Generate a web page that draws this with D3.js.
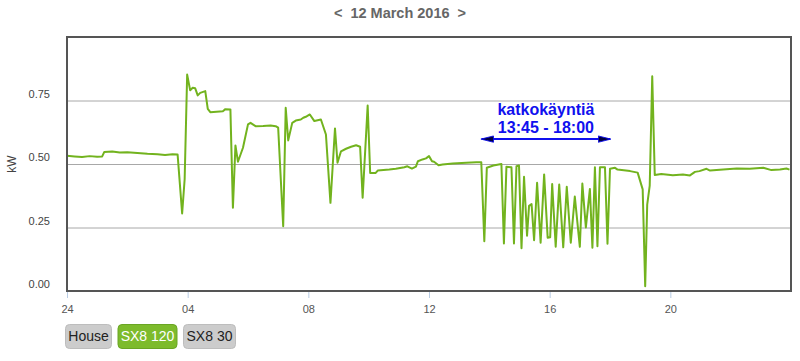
<!DOCTYPE html>
<html>
<head>
<meta charset="utf-8">
<script src="https://cdn.jsdelivr.net/npm/d3@7"></script>
<style>
  html, body { margin: 0; padding: 0; background: #fff; }
  svg { display: block; font-family: "Liberation Sans", Arial, sans-serif; }
</style>
</head>
<body>
<svg id="chart" width="800" height="361"></svg>
<script>
// ---- data ----
const title = "<  12 March 2016  >";
const yLabel = "kW";
const times = ["00:00","00:15","00:30","00:45","01:00","01:10","01:14","01:30","01:45","02:00","02:20","02:40","03:00","03:15","03:30","03:40","03:49","03:54","03:59","04:05","04:10","04:15","04:20","04:25","04:35","04:40","04:45","05:10","05:15","05:25","05:30","05:35","05:40","05:50","06:00","06:05","06:15","06:30","06:45","06:55","07:00","07:10","07:15","07:20","07:28","07:35","07:45","07:50","07:55","08:03","08:12","08:25","08:35","08:44","08:53","08:58","09:05","09:15","09:25","09:35","09:43","09:48","09:58","10:03","10:14","10:18","10:41","10:54","11:11","11:17","11:26","11:34","11:38","11:47","11:54","12:00","12:06","12:10","12:19","12:27","12:47","13:14","13:34","13:44","13:50","13:55","14:08","14:24","14:29","14:34","14:44","14:49","14:54","14:59","15:04","15:09","15:15","15:19","15:24","15:29","15:35","15:42","15:49","15:56","16:01","16:05","16:12","16:19","16:27","16:34","16:42","16:50","17:00","17:05","17:12","17:20","17:25","17:30","17:35","17:40","17:50","17:55","18:00","18:10","18:15","18:40","18:55","19:05","19:10","19:14","19:19","19:24","19:29","19:42","20:05","20:25","20:39","20:49","20:58","21:12","21:19","21:45","22:12","22:38","23:05","23:21","23:38","23:51","23:57"];
const sx8_120 = [0.532,0.530,0.528,0.531,0.529,0.530,0.547,0.549,0.545,0.546,0.543,0.540,0.538,0.535,0.538,0.537,0.305,0.440,0.852,0.790,0.800,0.798,0.770,0.780,0.787,0.717,0.704,0.708,0.716,0.715,0.328,0.573,0.509,0.564,0.656,0.662,0.649,0.650,0.652,0.649,0.643,0.255,0.721,0.593,0.662,0.671,0.675,0.682,0.686,0.695,0.669,0.675,0.616,0.347,0.640,0.505,0.550,0.560,0.568,0.574,0.568,0.367,0.730,0.465,0.465,0.474,0.478,0.481,0.487,0.491,0.482,0.490,0.511,0.518,0.522,0.531,0.511,0.509,0.495,0.498,0.502,0.505,0.507,0.507,0.196,0.485,0.494,0.500,0.187,0.489,0.487,0.187,0.491,0.494,0.168,0.450,0.218,0.335,0.342,0.200,0.426,0.190,0.459,0.210,0.212,0.421,0.174,0.419,0.172,0.410,0.190,0.372,0.174,0.423,0.250,0.402,0.170,0.487,0.176,0.487,0.487,0.186,0.481,0.485,0.478,0.472,0.466,0.400,0.019,0.340,0.415,0.845,0.457,0.461,0.456,0.459,0.455,0.469,0.472,0.481,0.474,0.478,0.482,0.481,0.485,0.476,0.478,0.482,0.478];
const xTickHours = [0, 4, 8, 12, 16, 20];
const xTickLabels = ["24", "04", "08", "12", "16", "20"];
const yTicks = [0, 0.25, 0.5, 0.75];
const annotationLines = ["katkokäyntiä", "13:45 - 18:00"];
const annotationSpan = ["13:45", "18:00"];
const annotationLevel = 0.598;
const buttons = ["House", "SX8 120", "SX8 30"];
const activeButton = "SX8 120";

// ---- helpers ----
const toHours = s => { const [h, m] = s.split(":").map(Number); return h + m / 60; };
const data = times.map((t, i) => ({ h: toHours(t), v: sx8_120[i] }));

const svg = d3.select("#chart");
const L = 67, R = 791, T = 37, B = 291;

const x = d3.scaleLinear().domain([0, 24]).range([L, R]);
const y = d3.scaleLinear().domain([0, 1]).range([B, T]);

// title
svg.append("text").attr("x", 400).attr("y", 18).attr("text-anchor", "middle")
  .attr("font-size", 14.5).attr("font-weight", "bold").attr("fill", "#666")
  .attr("xml:space", "preserve").style("white-space", "pre").text(title);

// grid
svg.append("g").selectAll("line").data(yTicks.filter(d => d > 0)).join("line")
  .attr("x1", L).attr("x2", R).attr("y1", d => y(d) + 0.5).attr("y2", d => y(d) + 0.5)
  .attr("stroke", "#a8a8a8").attr("stroke-width", 1);

// y labels
const yAxis = d3.axisLeft(y).tickValues(yTicks).tickFormat(d3.format(".2f")).tickSize(0).tickPadding(0);
const gy = svg.append("g").attr("transform", `translate(${L - 17},-7)`).call(yAxis);
gy.select(".domain").remove();
gy.selectAll("text").attr("font-size", 11).attr("fill", "#444").attr("font-family", "Liberation Sans, Arial, sans-serif");

// y title
svg.append("text").attr("transform", `translate(16,${(T + B) / 2}) rotate(-90)`)
  .attr("text-anchor", "middle").attr("font-size", 12).attr("fill", "#444").text(yLabel);

// x axis
const xAxis = d3.axisBottom(x).tickValues(xTickHours).tickFormat((d, i) => xTickLabels[i]).tickSize(6).tickPadding(7);
const gx = svg.append("g").attr("transform", `translate(0,${B + 1})`).call(xAxis);
gx.select(".domain").remove();
gx.selectAll("line").attr("stroke", "#b8cce4");
gx.selectAll("text").attr("font-size", 11).attr("fill", "#555").attr("font-family", "Liberation Sans, Arial, sans-serif");

// line
const line = d3.line().x(d => x(d.h)).y(d => y(d.v));
svg.append("path").datum(data).attr("d", line).attr("fill", "none")
  .attr("stroke", "#72b31e").attr("stroke-width", 2).attr("stroke-linejoin", "round");

// frame
svg.append("rect").attr("x", L).attr("y", T).attr("width", R - L).attr("height", B - T)
  .attr("fill", "none").attr("stroke", "#555").attr("stroke-width", 2);

// annotation
const defs = svg.append("defs");
["start", "end"].forEach(k => {
  defs.append("marker").attr("id", "arr-" + k).attr("viewBox", "0 0 14 10")
    .attr("refX", k === "end" ? 13 : 1).attr("refY", 5).attr("markerWidth", 7).attr("markerHeight", 4.5)
    .attr("markerUnits", "strokeWidth").attr("orient", "auto")
    .append("path").attr("d", k === "end" ? "M0,1.5 L14,5 L0,8.5 Z" : "M14,1.5 L0,5 L14,8.5 Z")
    .attr("fill", "#000040").attr("stroke", "#1010ee").attr("stroke-width", 1);
});
const ax1 = x(toHours(annotationSpan[0])), ax2 = x(toHours(annotationSpan[1]));
svg.append("line").attr("x1", ax1).attr("x2", ax2).attr("y1", y(annotationLevel)).attr("y2", y(annotationLevel))
  .attr("stroke", "#1010ee").attr("stroke-width", 2)
  .attr("marker-start", "url(#arr-start)").attr("marker-end", "url(#arr-end)");
svg.append("g").selectAll("text").data(annotationLines).join("text")
  .attr("x", (ax1 + ax2) / 2).attr("y", (d, i) => 115 + i * 18)
  .attr("text-anchor", "middle").attr("font-size", 16).attr("font-weight", "bold")
  .attr("fill", "#1010ee").text(d => d);

// buttons
const btnW = [47, 60, 53];
let bx = 65;
buttons.forEach((b, i) => {
  const active = b === activeButton;
  const g = svg.append("g").attr("transform", `translate(${bx},324)`);
  g.append("rect").attr("x", 0.5).attr("y", 0.5).attr("width", btnW[i] - 1).attr("height", 24).attr("rx", 4)
    .attr("fill", active ? "#7dbb2c" : "#cccccc").attr("stroke", active ? "#6aa524" : "#bdbdbd");
  g.append("text").attr("x", btnW[i] / 2).attr("y", 17).attr("text-anchor", "middle")
    .attr("font-size", 14).attr("fill", active ? "#fff" : "#222").text(b);
  bx += btnW[i] + 5.5;
});
</script>
</body>
</html>
